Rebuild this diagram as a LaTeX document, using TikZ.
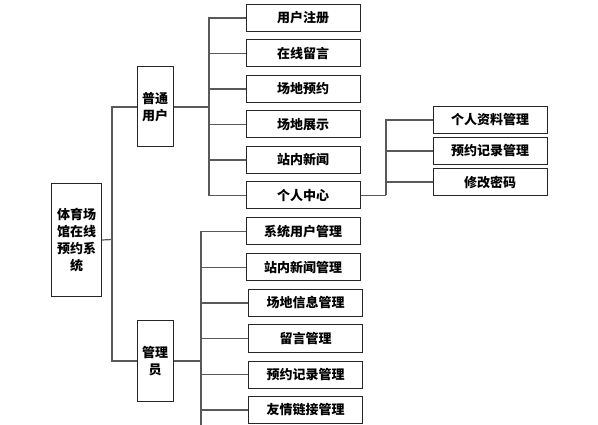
\documentclass[tikz,border=0pt]{standalone}
\usepackage{fontspec}
\newfontfamily\cjk{Noto Sans CJK SC}
\begin{document}
\begin{tikzpicture}[x=1pt,y=-1pt,
  box/.style={draw=black!85,line width=1pt,fill=white,inner sep=0pt,align=center,
    font=\cjk\bfseries\fontsize{13}{17}\selectfont},
  lbox/.style={box,minimum width=114pt,minimum height=27pt},
  conn/.style={draw=black!65,line width=1.2pt}]
\useasboundingbox (0,0) rectangle (598,425);
% root
\node[box,minimum width=50pt,minimum height=113pt,anchor=north west,text width=46pt] (root) at (51,183) {体育场\\馆在线\\预约系\\统};
\node[box,minimum width=36pt,minimum height=80pt,text width=32pt] (u) at (155,107) {普通\\用户};
\node[box,minimum width=36pt,minimum height=81pt,text width=32pt] (a) at (155,361) {管理\\员};
% user items
\node[lbox] (u1) at (303,18) {用户注册};
\node[lbox] (u2) at (303,53.5) {在线留言};
\node[lbox] (u3) at (303,89) {场地预约};
\node[lbox] (u4) at (303,124.5) {场地展示};
\node[lbox] (u5) at (303,160) {站内新闻};
\node[lbox] (u6) at (303,195.5) {个人中心};
% personal centre items
\node[lbox] (p1) at (490,120) {个人资料管理};
\node[lbox] (p2) at (490,151) {预约记录管理};
\node[lbox] (p3) at (490,182) {修改密码};
% admin items
\node[lbox] (a1) at (303,231.5) {系统用户管理};
\node[lbox] (a2) at (303,267.5) {站内新闻管理};
\node[lbox] (a3) at (305.5,303) {场地信息管理};
\node[lbox] (a4) at (305.5,338.5) {留言管理};
\node[lbox] (a5) at (305.5,374.5) {预约记录管理};
\node[lbox] (a6) at (305.5,410) {友情链接管理};
% junctions
\coordinate (j1) at (112,239.5);
\coordinate (j2) at (209,107);
\coordinate (j3) at (201,361);
\coordinate (j4) at (386,195.5);
\coordinate (jend) at (201,425);
% connectors
\draw[conn] (root.east) -- (j1);
\draw[conn] (j1) |- (u.west);
\draw[conn] (j1) |- (a.west);
\draw[conn] (u.east) -- (j2);
\foreach \n in {u1,u2,u3,u4,u5,u6} \draw[conn] (j2) |- (\n.west);
\draw[conn] (u6.east) -- (j4);
\foreach \n in {p1,p2,p3} \draw[conn] (j4) |- (\n.west);
\draw[conn] (a.east) -- (j3);
\foreach \n in {a1,a2,a3,a4,a5,a6} \draw[conn] (j3) |- (\n.west);
\draw[conn] (j3) -- (jend);
\end{tikzpicture}
\end{document}
